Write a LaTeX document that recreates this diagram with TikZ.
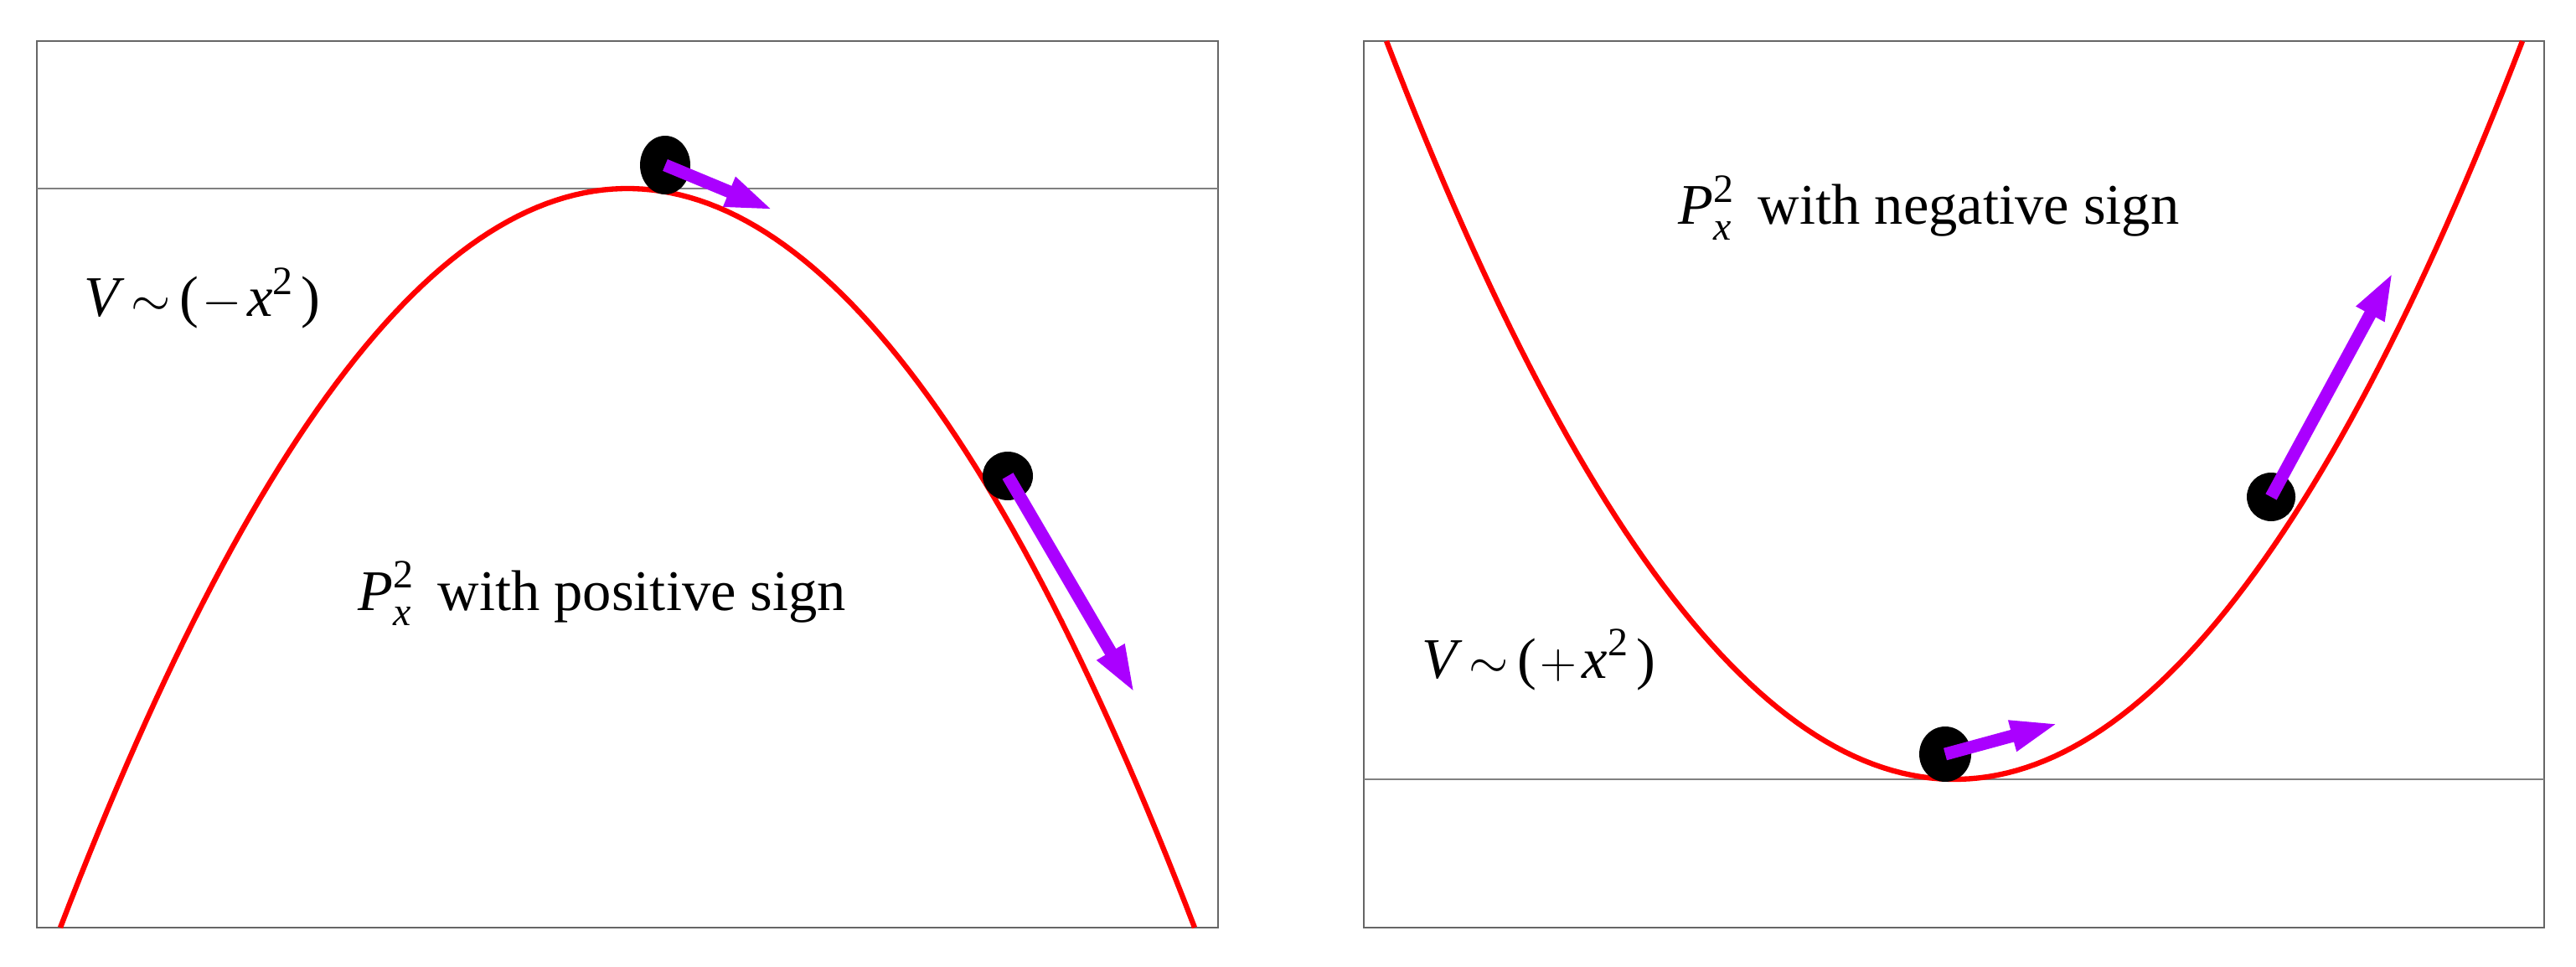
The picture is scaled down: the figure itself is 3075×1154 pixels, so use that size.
\documentclass[tikz,border=0pt]{standalone}
\usepackage{amsmath}
\usepackage{fontspec}
\setmainfont{Liberation Serif}
\usetikzlibrary{arrows.meta,shapes.geometric}
\definecolor{curvered}{RGB}{255,0,0}
\definecolor{arrowpurple}{RGB}{170,0,255}
\definecolor{framegray}{RGB}{102,102,102}
\definecolor{axisgray}{RGB}{128,128,128}
\newcommand{\smallsym}[1]{{\fontsize{16.5pt}{20pt}\selectfont$#1$}}
\newcommand{\Vlabel}[1]{\textit{V}\hspace{0.1em}\smallsym{\sim}\hspace{0.17em}(\hspace{0.05em}\smallsym{#1}\hspace{0.1em}\textit{x}\textsuperscript{2}\hspace{0.12em})}
\newcommand{\Plabel}{\textit{P}$^{\text{2}}_{\textit{x}}$\hspace{0.4em}}
\begin{document}
\begin{tikzpicture}[x=0.1mm,y=-0.1mm,
  frame/.style={draw=framegray, line width=0.6pt},
  axisline/.style={draw=axisgray, line width=0.45pt},
  curve/.style={draw=curvered, line width=1.8pt},
  ball/.style={ellipse, fill=black, inner sep=0pt},
  push/.style={draw=arrowpurple, line width=1.5mm, -{Triangle[length=5.8mm,width=3.4mm]}},
  lbl/.style={anchor=base west, inner sep=0pt, font=\fontsize{19.5pt}{23pt}\selectfont}]
\useasboundingbox (0,0) rectangle (3075,1154);
% frames
\draw[frame] (44,49) rectangle (1454,1107);
\draw[frame] (1628,49) rectangle (3037,1107);
% axis lines
\draw[axisline] (44,225) -- (1454,225);
\draw[axisline] (1628,930) -- (3037,930);
% curves
\draw[curve] plot[domain=72:1426, samples=120] (\x, {225+882*((\x-749)/677)^2});
\draw[curve] plot[domain=1655:3011, samples=120] (\x, {930-881*((\x-2333)/678)^2});
% balls
\node[ball, minimum width=6mm, minimum height=7mm] (b1) at (794,197) {};
\node[ball, minimum width=6mm, minimum height=5.8mm] (b2) at (1203,568) {};
\node[ball, minimum width=6.2mm, minimum height=6.6mm] (b3) at (2322,900) {};
\node[ball, minimum width=5.8mm, minimum height=5.8mm] (b4) at (2711,593) {};
% arrow tips
\coordinate (t1) at (924,251);
\coordinate (t2) at (1355,828);
\coordinate (t3) at (2458,863);
\coordinate (t4) at (2857,324);
\draw[push] (b1.center) -- (t1);
\draw[push] (b2.center) -- (t2);
\draw[push] (b3.center) -- (t3);
\draw[push] (b4.center) -- (t4);
% labels
\node[lbl] (vl) at (100,378) {\Vlabel{-}};
\node[lbl] (vr) at (1697,809) {\Vlabel{+}};
\node[lbl] (pl) at (427,728) {\Plabel with positive sign};
\node[lbl] (pr) at (2003,268) {\Plabel with negative sign};
\end{tikzpicture}
\end{document}
